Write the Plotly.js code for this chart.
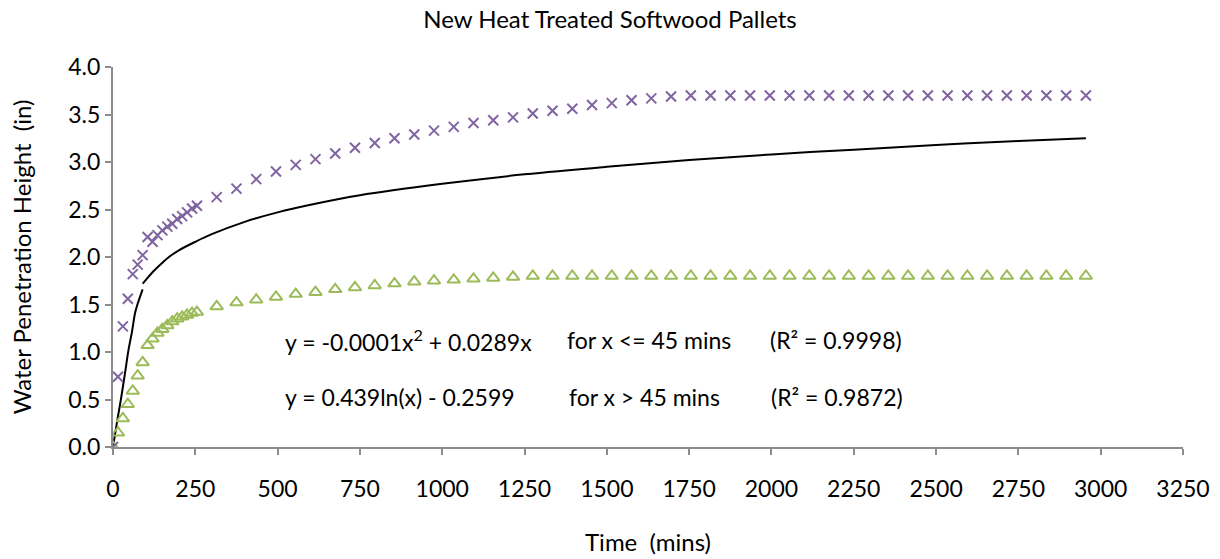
<!DOCTYPE html>
<html>
<head>
<meta charset="utf-8">
<script src="https://cdn.plot.ly/plotly-3.0.1.min.js"></script>
<style>html,body{margin:0;padding:0;background:#fff;}#chart{width:1220px;height:559px;}</style>
</head>
<body>
<div id="chart"></div>
<script>
// Time (mins) for measurements
const timeMins = [0,15,30,45,60,75,90,105,120,135,150,165,180,195,210,225,240,255,
  315,375,435,495,555,615,675,735,795,855,915,975,1035,1095,1155,1215,1275,1335,1395,1455,1515,1575,1635,1695,1755,
  1815,1875,1935,1995,2055,2115,2175,2235,2295,2355,2415,2475,2535,2595,2655,2715,2775,2835,2895,2955];

// Upper series (purple X)
const purpleHeight = [0,0.74,1.27,1.56,1.82,1.92,2.02,2.21,2.16,2.23,2.28,2.32,2.35,2.40,2.43,2.47,2.51,2.54,
  2.63,2.72,2.82,2.90,2.97,3.03,3.09,3.15,3.20,3.25,3.29,3.33,3.37,3.41,3.44,3.47,3.51,3.54,3.56,3.60,3.62,3.65,3.67,3.69,3.70,
  3.70,3.70,3.70,3.70,3.70,3.70,3.70,3.70,3.70,3.70,3.70,3.70,3.70,3.70,3.70,3.70,3.70,3.70,3.70,3.70];

// Lower series (green triangles)
const greenHeight = [0,0.15,0.30,0.45,0.59,0.75,0.89,1.07,1.14,1.20,1.24,1.28,1.32,1.35,1.37,1.39,1.41,1.42,
  1.48,1.52,1.55,1.58,1.61,1.63,1.66,1.68,1.70,1.72,1.74,1.75,1.76,1.77,1.78,1.79,1.80,1.80,1.80,1.80,1.80,1.80,1.80,1.80,1.80,
  1.80,1.80,1.80,1.80,1.80,1.80,1.80,1.80,1.80,1.80,1.80,1.80,1.80,1.80,1.80,1.80,1.80,1.80,1.80,1.80];

// Trend line, early part
const trendEarlyX = [0,12,24,40,47,58,67,76,82,90];
const trendEarlyY = [0,0.26,0.50,0.86,1.02,1.22,1.41,1.52,1.58,1.66];

// Trend line, later part
const trendLateX = [90,100,120,150,170,200,250,300,400,500,600,750,1000,1250,1500,1750,2000,2250,2500,2750,2955];
const trendLateY = [1.72,1.76,1.84,1.94,2.00,2.07,2.16,2.24,2.37,2.47,2.55,2.65,2.77,2.87,2.95,3.02,3.08,3.13,3.18,3.22,3.25];

const xTicks = [0,250,500,750,1000,1250,1500,1750,2000,2250,2500,2750,3000,3250];
const yTicks = [0,0.5,1.0,1.5,2.0,2.5,3.0,3.5,4.0];

const FONT = 'Lato, "Open Sans", sans-serif';
const AXISCOL = '#8c8c8c';

const traces = [
  {x: trendEarlyX, y: trendEarlyY, mode: 'lines', line: {color: '#000', width: 2, shape: 'spline'}, hoverinfo: 'skip'},
  {x: trendLateX, y: trendLateY, mode: 'lines', line: {color: '#000', width: 2, shape: 'spline'}, hoverinfo: 'skip'},
  {x: timeMins, y: greenHeight, mode: 'markers',
   marker: {symbol: 'triangle-up-open', size: 11, color: '#9BBB59', line: {color: '#9BBB59', width: 2}}},
  {x: timeMins, y: purpleHeight, mode: 'markers',
   marker: {symbol: 'x-thin-open', size: 10, color: '#8064A2', line: {color: '#8064A2', width: 2}}}
];

const annFont = {family: FONT, size: 23, color: '#000'};
const annotations = [
  {x: 515, y: 1.125, text: 'y = -0.0001x<sup>2</sup> + 0.0289x'},
  {x: 1373, y: 1.125, text: 'for x <= 45 mins'},
  {x: 1990, y: 1.125, text: '(R² = 0.9998)'},
  {x: 515, y: 0.53, text: 'y = 0.439ln(x) - 0.2599'},
  {x: 1378, y: 0.53, text: 'for x > 45 mins'},
  {x: 1993, y: 0.53, text: '(R² = 0.9872)'}
].map(a => Object.assign({xref: 'x', yref: 'y', xanchor: 'left', yanchor: 'middle', showarrow: false, font: annFont}, a));

const layout = {
  width: 1220, height: 559,
  margin: {l: 113, r: 37, t: 67, b: 112},
  paper_bgcolor: '#fff', plot_bgcolor: '#fff',
  showlegend: false,
  font: {family: FONT, size: 23, color: '#000'},
  title: {text: 'New Heat Treated Softwood Pallets', font: {family: FONT, size: 24, color: '#000'}, x: 0.5, xanchor: 'center', y: 0.965, yanchor: 'middle'},
  xaxis: {
    range: [0, 3250], tickvals: xTicks, ticktext: xTicks.map(String),
    showgrid: false, zeroline: false, showline: true, linecolor: AXISCOL, linewidth: 2,
    ticks: 'outside', ticklen: 6, tickcolor: AXISCOL, tickwidth: 2,
    ticklabelstandoff: 14, automargin: false,
    tickfont: {family: FONT, size: 23, color: '#000'},
    title: {text: 'Time\u00a0\u00a0(mins)', font: {family: FONT, size: 24, color: '#000'}, standoff: 34}
  },
  yaxis: {
    range: [0, 4], tickvals: yTicks, ticktext: yTicks.map(v => v.toFixed(1)),
    showgrid: false, zeroline: false, showline: true, linecolor: AXISCOL, linewidth: 2,
    ticks: 'outside', ticklen: 6, tickcolor: AXISCOL, tickwidth: 2,
    automargin: true,
    tickfont: {family: FONT, size: 23, color: '#000'},
    title: {text: 'Water Penetration Height\u00a0\u00a0(in)', font: {family: FONT, size: 24, color: '#000'}, standoff: 30}
  },
  annotations: annotations
};

Plotly.newPlot('chart', traces, layout, {displayModeBar: false, staticPlot: true});
</script>
</body>
</html>
